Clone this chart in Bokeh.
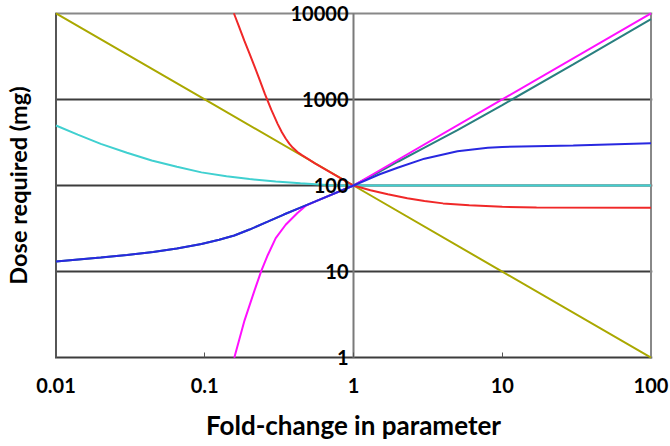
from bokeh.plotting import figure
from bokeh.models import FixedTicker, LogAxis, Grid
from bokeh.embed import file_html
from bokeh.resources import INLINE

# ---- data ----
x_ticks = [0.01, 0.1, 1, 10, 100]
x_tick_labels = ["0.01", "0.1", "1", "10", "100"]
y_ticks = [1, 10, 100, 1000, 10000]
y_tick_labels = ["1", "10", "100", "1000", "10000"]

olive_x = [0.01, 0.1, 1, 10, 100]
olive_y = [10000, 1000, 100, 10, 1]

red_x = [0.157, 0.17, 0.1845, 0.2, 0.2154, 0.235, 0.254, 0.28, 0.309, 0.33, 0.35, 0.37,
         0.39, 0.42, 0.45, 0.5, 0.55, 0.7, 0.85, 1, 1.3, 1.7, 2.3, 3, 4, 6, 10, 17, 100]
red_y = [10000, 7000, 4800, 3400, 2450, 1650, 1150, 760, 520, 416, 351, 307,
         276, 245, 225, 201, 181, 142, 117, 100, 88, 79, 71, 66, 62, 59, 56.5, 55.5, 55]

cyan_x = [0.01, 0.014, 0.02, 0.03, 0.044, 0.065, 0.095, 0.14, 0.2, 0.3, 0.44, 0.7, 1, 100]
cyan_y = [497, 390, 304, 240, 195, 165, 142, 128, 119, 111, 106, 101, 100, 100]

blue_x = [0.01, 0.02, 0.03, 0.045, 0.065, 0.095, 0.125, 0.158, 0.2, 0.265, 0.34, 0.44, 0.55, 0.7,
          1, 1.5, 2, 3, 5, 8, 10, 30, 100]
blue_y = [13.1, 14.6, 15.6, 16.9, 18.6, 20.9, 23.4, 26.3, 30.8, 38.0, 46.0, 55.4, 65.0, 77.4,
          100, 135, 162, 205, 250, 274, 280, 292, 309]

teal_x = [0.01, 0.02, 0.03, 0.045, 0.065, 0.095, 0.125, 0.158, 0.2, 0.265, 0.34, 0.44, 0.55, 0.7,
          1, 1.5, 2, 3, 5, 10, 30, 100]
teal_y = [13.1, 14.6, 15.6, 16.9, 18.6, 20.9, 23.4, 26.3, 30.8, 38.0, 46.0, 55.4, 65.0, 77.4,
          100, 145, 190, 275, 440, 860, 2550, 8550]

magenta_x = [0.158, 0.185, 0.215, 0.24, 0.265, 0.30, 0.35, 0.42, 0.48, 0.55, 0.7, 1, 10, 100]
magenta_y = [1.0, 2.7, 5.9, 10.2, 15.5, 24.5, 35, 48, 58.5, 65, 77.4, 100, 1000, 10000]

FONT = "Lato"
PAD_X = 0.01   # decades of room round the box, so border lines and labels are not clipped
PAD_Y = 0.125

x_lo, x_hi = x_ticks[0] * 10 ** -PAD_X, x_ticks[-1] * 10 ** PAD_X
y_lo, y_hi = y_ticks[0] * 10 ** -PAD_Y, y_ticks[-1] * 10 ** PAD_Y

p = figure(width=670, height=446, x_axis_type="log", y_axis_type="log",
           x_range=(x_lo, x_hi), y_range=(y_lo, y_hi),
           output_backend="svg", toolbar_location=None,
           min_border_left=53, min_border_right=18, min_border_top=2, min_border_bottom=78)
p.background_fill_color = "white"
p.border_fill_color = "white"
p.outline_line_color = None

# horizontal lines at 1/10/100/1000 (dark) and 10000 (grey)
p.ygrid.ticker = FixedTicker(ticks=y_ticks[:-1])
p.ygrid.grid_line_color = "#3c3c3c"
p.ygrid.grid_line_width = 2
top_grid = Grid(dimension=1, ticker=FixedTicker(ticks=y_ticks[-1:]),
                grid_line_color="#888888", grid_line_width=2)
p.add_layout(top_grid)
p.xgrid.visible = False

# vertical lines: left border, x = 1 line, right border
vx = [x_ticks[0], x_ticks[2], x_ticks[-1]]
p.segment(x0=vx, y0=[y_ticks[0]] * 3, x1=vx, y1=[y_ticks[-1]] * 3,
          line_color=["#555555", "#7a7a7a", "#888888"], line_width=2)

# x axis: labels only (below the box)
p.xaxis.ticker = FixedTicker(ticks=x_ticks)
p.xaxis.major_label_overrides = {t: l for t, l in zip(x_ticks, x_tick_labels)}
p.xaxis.minor_tick_line_color = None
p.xaxis.major_tick_line_color = None
p.xaxis.major_tick_in = 0
p.xaxis.major_tick_out = 0
p.xaxis.axis_line_color = None
p.xaxis.major_label_standoff = 9
p.xaxis.major_label_text_font = FONT
p.xaxis.major_label_text_font_style = "bold"
p.xaxis.major_label_text_font_size = "20px"
p.xaxis.major_label_text_color = "black"
p.xaxis.axis_label = "Fold-change in parameter"
p.xaxis.axis_label_text_font = FONT
p.xaxis.axis_label_text_font_style = "bold"
p.xaxis.axis_label_text_font_size = "26px"
p.xaxis.axis_label_text_color = "black"
p.xaxis.axis_label_standoff = 13

# small inward ticks on the bottom line (y = 1)
inner_ticks = x_ticks[1:-1]
tick_axis = LogAxis(fixed_location=y_ticks[0], ticker=FixedTicker(ticks=inner_ticks),
                    major_label_overrides={t: " " for t in inner_ticks},
                    axis_line_color=None, minor_tick_line_color=None,
                    major_tick_line_color="#555555", major_tick_line_width=1,
                    major_tick_in=5, major_tick_out=0,
                    major_label_text_font=FONT, major_label_text_font_size="20px")
p.add_layout(tick_axis, "below")

# y axis (left): only the label
p.yaxis.ticker = FixedTicker(ticks=[])
p.yaxis.minor_tick_line_color = None
p.yaxis.major_tick_line_color = None
p.yaxis.axis_line_color = "white"
p.yaxis.axis_label = "Dose required (mg)"
p.yaxis.axis_label_text_font = FONT
p.yaxis.axis_label_text_font_style = "bold"
p.yaxis.axis_label_text_font_size = "23.5px"
p.yaxis.axis_label_text_color = "black"
p.yaxis.axis_label_standoff = 23

# curves
p.line(olive_x, olive_y, line_color="#aaa800", line_width=2)
p.line(cyan_x, cyan_y, line_color="#40d0d0", line_width=2)
p.line(red_x, red_y, line_color="#f02828", line_width=2)
p.line(teal_x, teal_y, line_color="#2a7f80", line_width=2)
p.line(magenta_x, magenta_y, line_color="#ff10ff", line_width=2)
p.line(blue_x, blue_y, line_color="#2828e0", line_width=2)

# y tick labels: an axis pinned to the x = 1 line
mid_axis = LogAxis(fixed_location=x_ticks[2], ticker=FixedTicker(ticks=y_ticks),
                   major_label_overrides={t: l for t, l in zip(y_ticks, y_tick_labels)},
                   axis_line_color=None, major_tick_line_color=None,
                   minor_tick_line_color=None, major_tick_in=0, major_tick_out=0,
                   major_label_standoff=5,
                   major_label_text_font=FONT, major_label_text_font_style="bold",
                   major_label_text_font_size="20px", major_label_text_color="black")
p.add_layout(mid_axis, "left")

open("out.html", "w").write(file_html(p, INLINE))
